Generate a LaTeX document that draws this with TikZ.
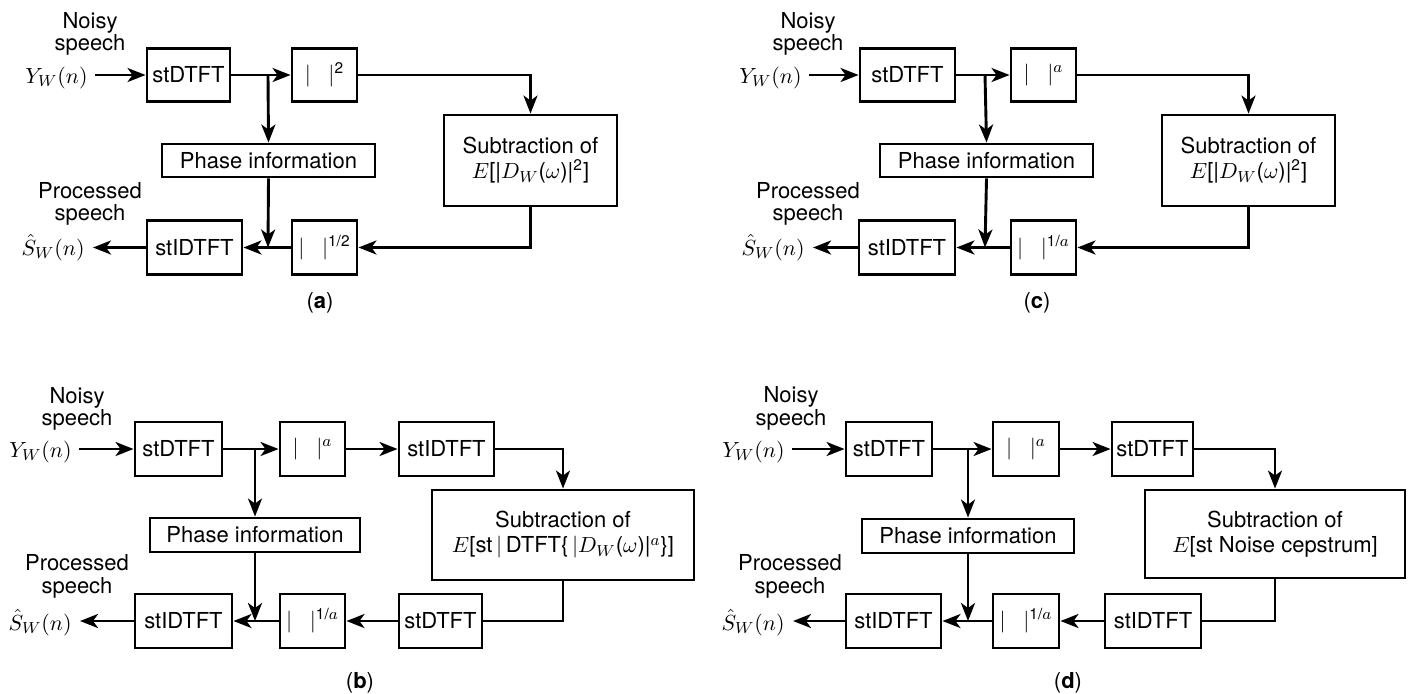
\documentclass[tikz,border=0pt]{standalone}
\usepackage{amsmath}
\usepackage{fontspec}
\setmainfont{TeX Gyre Heros}
\usetikzlibrary{arrows.meta}
\newcommand\blk[6]{\node[blk, minimum width={0.5pt*(#4-#2)}, minimum height={0.5pt*(#5-#3)}] (#1) at ({(#2+#4)/2},{(#3+#5)/2}) {#6};}
\newcommand\absq[1]{$\lvert\hspace{0.8em}\rvert^{#1}$}
\begin{document}
\begin{tikzpicture}[x=0.5pt,y=-0.5pt,
  blk/.style={draw, line width=1.45pt, inner sep=0pt, font=\fontsize{11}{12.5}\selectfont, align=center},
  lbl/.style={inner sep=0pt, font=\fontsize{11}{12.5}\selectfont},
  captxt/.style={inner sep=0pt, font=\fontsize{11}{12.5}\selectfont},
  wire/.style={line width=1.45pt},
  arr/.style={line width=1.45pt, -{Stealth[length=9pt,width=7pt,inset=2.5pt]}}]
\useasboundingbox (0,0) rectangle (1411,693);

% ---------------- (a) ----------------
\node[lbl, anchor=base] (na1) at (90,28) {Noisy};
\node[lbl, anchor=base] (na2) at (90,50) {speech};
\node[lbl, anchor=base east] (ya) at (88,83) {$Y_W(n)$};
\blk{sa1}{147}{48.5}{230}{101.5}{stDTFT}
\blk{ma1}{292}{48.5}{357}{101.5}{\absq{\text{2}}}
\blk{suba}{444}{115}{617}{206}{Subtraction of\\$E$[|$D_W$($\omega$)|$^{\text{2}}$]}
\blk{pha}{162}{144}{375}{177}{Phase information}
\blk{ra1}{292}{220.5}{357}{274.5}{\absq{\text{1/2}}}
\blk{ia}{147}{220.5}{242}{274.5}{stIDTFT}
\node[lbl, anchor=base] (pa1) at (90,198) {Processed};
\node[lbl, anchor=base] (pa2) at (90,220) {speech};
\node[lbl, anchor=base east] (sha) at (85,255) {$\hat{S}_W(n)$};
\coordinate (ja1) at (268,75);
\coordinate (ja2) at (268,247.5);
\draw[arr] ([xshift=3.5pt]ya.east |- sa1.west) -- (sa1.west);
\draw[arr] (sa1.east) -- (ma1.west);
\draw[arr] (ja1) -- (pha.north);
\draw[arr] (ma1.east) -| (suba.north);
\draw[arr] (suba.south) |- (ra1.east);
\draw[arr] (ra1.west) -- (ia.east);
\draw[arr] (pha.south) -- (ja2);
\draw[arr] (ia.west) -- ([xshift=4pt]sha.east |- ia.west);
\node[captxt] (ca) at (320,303) {(\textbf{a})};

% ---------------- (c) ----------------
\node[lbl, anchor=base] (nc1) at (808,28) {Noisy};
\node[lbl, anchor=base] (nc2) at (808,50) {speech};
\node[lbl, anchor=base east] (yc) at (802,83) {$Y_W(n)$};
\blk{sc1}{860}{48.5}{955}{101.5}{stDTFT}
\blk{mc1}{1011}{48.5}{1076}{101.5}{\absq{a}}
\blk{subc}{1162}{115}{1335}{206}{Subtraction of\\$E$[|$D_W$($\omega$)|$^{\text{2}}$]}
\blk{phc}{880}{144}{1093}{177}{Phase information}
\blk{rc1}{1011}{220.5}{1076}{274.5}{\absq{\text{1/}a}}
\blk{ic}{859}{220.5}{955}{274.5}{stIDTFT}
\node[lbl, anchor=base] (pc1) at (808,198) {Processed};
\node[lbl, anchor=base] (pc2) at (808,220) {speech};
\node[lbl, anchor=base east] (shc) at (805,255) {$\hat{S}_W(n)$};
\coordinate (jc1) at (985,75);
\coordinate (jc2) at (985,247.5);
\draw[arr] ([xshift=3.5pt]yc.east |- sc1.west) -- (sc1.west);
\draw[arr] (sc1.east) -- (mc1.west);
\draw[arr] (jc1) -- (phc.north);
\draw[arr] (mc1.east) -| (subc.north);
\draw[arr] (subc.south) |- (rc1.east);
\draw[arr] (rc1.west) -- (ic.east);
\draw[arr] (phc.south) -- (jc2);
\draw[arr] (ic.west) -- ([xshift=4pt]shc.east |- ic.west);
\node[captxt] (cc) at (1037,303) {(\textbf{c})};

% ---------------- (b) ----------------
\node[lbl, anchor=base] (nb1) at (77,403) {Noisy};
\node[lbl, anchor=base] (nb2) at (77,425) {speech};
\node[lbl, anchor=base east] (yb) at (72,457) {$Y_W(n)$};
\blk{sb1}{135}{422}{222}{476}{stDTFT}
\blk{mb1}{280}{422}{345}{476}{\absq{a}}
\blk{ib1}{399}{422}{494}{476}{stIDTFT}
\blk{subb}{432}{490}{694}{580}{Subtraction of\\$E$[st\,$\vert$\,DTFT\{\,$\vert D_W$($\omega$)|$^{a}$\}]}
\blk{phb}{150}{518}{360}{552}{Phase information}
\blk{sb2}{399}{594}{482}{648}{stDTFT}
\blk{rb1}{280}{594}{345}{648}{\absq{\text{1/}a}}
\blk{ib2}{135}{594}{232}{648}{stIDTFT}
\node[lbl, anchor=base] (pb1) at (77,570) {Processed};
\node[lbl, anchor=base] (pb2) at (77,593) {speech};
\node[lbl, anchor=base east] (shb) at (72,630) {$\hat{S}_W(n)$};
\coordinate (jb1) at (255,449);
\coordinate (jb2) at (255,621);
\draw[arr] ([xshift=3.5pt]yb.east |- sb1.west) -- (sb1.west);
\draw[arr] (sb1.east) -- (mb1.west);
\draw[arr] (jb1) -- (phb.north -| jb1);
\draw[arr] (mb1.east) -- (ib1.west);
\draw[arr] (ib1.east) -| (subb.north);
\draw[wire] (subb.south) |- (sb2.east);
\draw[arr] (sb2.west) -- (rb1.east);
\draw[arr] (rb1.west) -- (ib2.east);
\draw[arr] (phb.south -| jb2) -- (jb2);
\draw[arr] (ib2.west) -- ([xshift=4pt]shb.east |- ib2.west);
\node[captxt] (cb) at (360,683) {(\textbf{b})};

% ---------------- (d) ----------------
\node[lbl, anchor=base] (nd1) at (791,402) {Noisy};
\node[lbl, anchor=base] (nd2) at (791,425) {speech};
\node[lbl, anchor=base east] (yd) at (785,457) {$Y_W(n)$};
\blk{sd1}{846}{422}{932}{476}{stDTFT}
\blk{md1}{993}{422}{1059}{476}{\absq{a}}
\blk{sd2}{1112}{422}{1193}{476}{stDTFT}
\blk{subd}{1145}{490}{1405}{578}{Subtraction of\\$E$[st Noise cepstrum]}
\blk{phd}{862}{519}{1074}{553}{Phase information}
\blk{id2}{1105}{594}{1201}{648}{stIDTFT}
\blk{rd1}{993}{594}{1059}{648}{\absq{\text{1/}a}}
\blk{id3}{846}{594}{941}{648}{stIDTFT}
\node[lbl, anchor=base] (pd1) at (790,570) {Processed};
\node[lbl, anchor=base] (pd2) at (790,593) {speech};
\node[lbl, anchor=base east] (shd) at (785,630) {$\hat{S}_W(n)$};
\coordinate (jd1) at (968,449);
\coordinate (jd2) at (968,621);
\draw[arr] ([xshift=3.5pt]yd.east |- sd1.west) -- (sd1.west);
\draw[arr] (sd1.east) -- (md1.west);
\draw[arr] (jd1) -- (phd.north -| jd1);
\draw[arr] (md1.east) -- (sd2.west);
\draw[arr] (sd2.east) -| (subd.north);
\draw[wire] (subd.south) |- (id2.east);
\draw[arr] (id2.west) -- (rd1.east);
\draw[arr] (rd1.west) -- (id3.east);
\draw[arr] (phd.south -| jd2) -- (jd2);
\draw[arr] (id3.west) -- ([xshift=4pt]shd.east |- id3.west);
\node[captxt] (cd) at (1068,683) {(\textbf{d})};
\end{tikzpicture}
\end{document}
